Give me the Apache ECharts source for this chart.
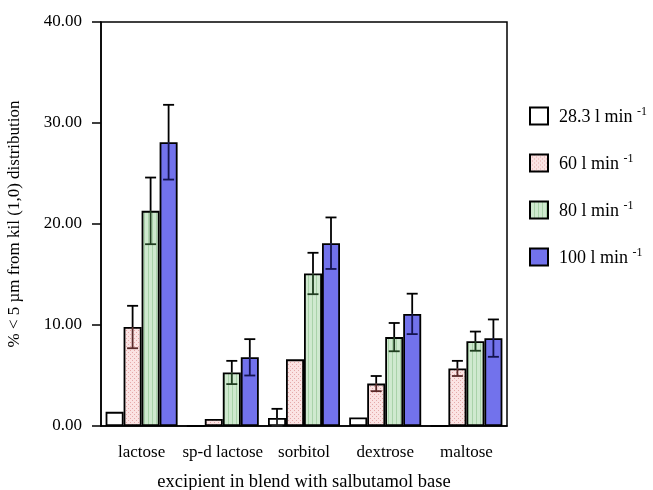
<!DOCTYPE html>
<html><head><meta charset="utf-8">
<script src="https://cdn.jsdelivr.net/npm/echarts@6/dist/echarts.min.js"></script>
<style>html,body{margin:0;padding:0;background:#fff}#c{width:653px;height:490px}</style>
</head><body><div id="c"></div>
<script>
var categories = ['lactose', 'sp-d lactose', 'sorbitol', 'dextrose', 'maltose'];
var seriesNames = ['28.3 l min', '60 l min', '80 l min', '100 l min'];
var v283 = [1.4, 0, 0.8, 0.85, 0];
var v60 = [9.8, 0.7, 6.6, 4.2, 5.7];
var v80 = [21.3, 5.3, 15.1, 8.8, 8.4];
var v100 = [28.1, 6.8, 18.1, 11.1, 8.7];
var sd283 = [0, 0, 0.9, 0, 0];
var sd60 = [2.1, 0, 0, 0.75, 0.75];
var sd80 = [3.3, 1.15, 2.05, 1.4, 0.95];
var sd100 = [3.7, 1.8, 2.55, 2.0, 1.85];
var yTicks = [0, 10, 20, 30, 40];

function pattern(bg, draw) {
  var c = document.createElement('canvas');
  c.width = 4; c.height = 4;
  var g = c.getContext('2d');
  g.fillStyle = bg; g.fillRect(0, 0, 4, 4);
  draw(g);
  return { image: c, repeat: 'repeat' };
}
var pinkFill = pattern('#fbe3e3', function (g) {
  g.fillStyle = '#e5a9a9';
  g.fillRect(0, 0, 1, 1); g.fillRect(2, 2, 1, 1);
});
var greenFill = pattern('#cfe9cf', function (g) {
  g.fillStyle = '#a9d2a9';
  g.fillRect(0, 0, 1, 4);
});
var fills = ['#ffffff', pinkFill, greenFill, '#7272ec'];
var innerErr = ['#222', '#5a2a2a', '#1f3d1f', '#141450'];
var values = [v283, v60, v80, v100];
var sds = [sd283, sd60, sd80, sd100];
var BW = 18;
var offsets = [-27, -9, 9, 27];

var series = [];
values.forEach(function (vals, i) {
  series.push({
    name: seriesNames[i], type: 'bar', data: vals, barWidth: BW, barGap: '0%',
    itemStyle: { color: fills[i], borderColor: '#000', borderWidth: 1.8 },
    emphasis: { disabled: true }, z: 2
  });
});
values.forEach(function (vals, i) {
  var data = vals.map(function (v, k) { return [k, v, sds[i][k]]; });
  series.push({
    type: 'custom', data: data, z: 5, silent: true,
    renderItem: function (params, api) {
      var k = api.value(0), v = api.value(1), s = api.value(2);
      if (!s) return null;
      var p = api.coord([k, v]);
      var pu = api.coord([k, v + s]);
      var pl = api.coord([k, Math.max(0, v - s)]);
      var x = p[0] + offsets[i];
      var hw = 5.5;
      return {
        type: 'group', children: [
          { type: 'line', shape: { x1: x, y1: p[1], x2: x, y2: pu[1] }, style: { stroke: '#000', lineWidth: 1.8 } },
          { type: 'line', shape: { x1: x - hw, y1: pu[1], x2: x + hw, y2: pu[1] }, style: { stroke: '#000', lineWidth: 1.8 } },
          { type: 'line', shape: { x1: x, y1: p[1], x2: x, y2: pl[1] }, style: { stroke: innerErr[i], lineWidth: 1.8 } },
          { type: 'line', shape: { x1: x - hw, y1: pl[1], x2: x + hw, y2: pl[1] }, style: { stroke: innerErr[i], lineWidth: 1.8 } }
        ]
      };
    }
  });
});

var font = 'Liberation Serif';
var chart = echarts.init(document.getElementById('c'));
chart.setOption({
  animation: false,
  textStyle: { fontFamily: font },
  grid: { left: 101, top: 22, right: 146, bottom: 64, show: true, borderColor: '#000', borderWidth: 1.5, containLabel: false, outerBoundsMode: 'none' },
  legend: {
    orient: 'vertical', left: 524, top: 101, itemWidth: 18, itemHeight: 17, itemGap: 27,
    icon: 'rect',
    data: seriesNames, selectedMode: false,
    formatter: function (n) { return '{a|' + n + ' }{s|-1}'; },
    textStyle: {
      fontFamily: font, color: '#000',
      rich: {
        a: { fontSize: 18, fontFamily: font, color: '#000', lineHeight: 20, verticalAlign: 'bottom', padding: [0, 0, 0, 6] },
        s: { fontSize: 12, fontFamily: font, color: '#000', lineHeight: 20, verticalAlign: 'top' }
      }
    }
  },
  xAxis: {
    type: 'category', data: categories,
    axisLine: { lineStyle: { color: '#000', width: 1.5 } },
    axisTick: { alignWithLabel: true, length: 8, lineStyle: { color: '#000', width: 1.5 } },
    axisLabel: { color: '#000', fontSize: 17, fontFamily: font, margin: 18, interval: 0 },
    name: 'excipient in blend with salbutamol base', nameLocation: 'middle', nameGap: 47,
    nameTextStyle: { color: '#000', fontSize: 18.5, fontFamily: font }
  },
  yAxis: {
    type: 'value', min: yTicks[0], max: yTicks[yTicks.length - 1], interval: 10,
    splitLine: { show: false },
    axisLine: { show: true, lineStyle: { color: '#000', width: 1.5 } },
    axisTick: { show: true, length: 9, lineStyle: { color: '#000', width: 1.5 } },
    axisLabel: { color: '#000', fontSize: 17, fontFamily: font, margin: 19, formatter: function (v) { return v.toFixed(2); } },
    name: '% < 5 µm from kil (1,0) distribution', nameLocation: 'middle', nameGap: 78,
    nameTextStyle: { color: '#000', fontSize: 17, fontFamily: font }
  },
  series: series
});
</script></body></html>
